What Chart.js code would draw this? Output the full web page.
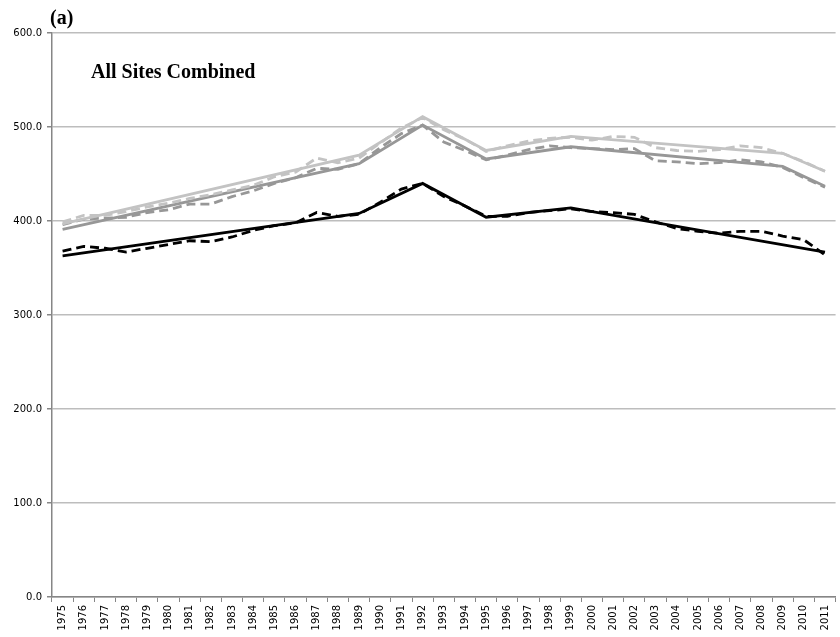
<!DOCTYPE html>
<html>
<head>
<meta charset="utf-8">
<script src="https://cdn.jsdelivr.net/npm/chart.js@4"></script>
<style>
    html, body { margin: 0; padding: 0; background: #fff; }
    #wrap { width: 840px; height: 637px; position: relative; }
</style>
</head>
<body>
<div id="wrap"><canvas id="chart" width="840" height="637"></canvas></div>
<script>
// years on the x axis
const years = [];
for (let y = 1975; y <= 2011; y++) years.push(String(y));

const yTicks = [0, 100, 200, 300, 400, 500, 600];

// observed series (dashed)
const lightObserved = [399, 406, 406, 410, 415, 419, 424, 428, 433, 438, 447, 452, 467, 462, 467, 483, 499, 510,
    497, 487, 474, 480, 485, 488, 489, 486, 490, 489, 478, 475, 474, 476, 480, 478, 472, 463, 453];
const mediumObserved = [396, 402, 403, 404, 409, 412, 418, 418, 426, 432, 440, 446, 456, 455, 461, 478, 493, 502,
    484, 475, 465, 470, 476, 480, 478, 477, 476, 477, 464, 463, 461, 462, 465, 463, 457, 446, 436];
const blackObserved = [368, 373, 371, 367, 371, 375, 379, 378, 383, 390, 395, 398, 409, 405, 407, 420, 434, 440,
    426, 416, 405, 405, 409, 411, 413, 410, 409, 407, 399, 392, 389, 387, 389, 389, 384, 380, 364];

// fitted trend lines (solid) - values only at the break years, joined by the chart
const lightTrend = { 1975: 397, 1989: 470, 1992: 511, 1995: 475, 1999: 490, 2009: 472, 2011: 453 };
const mediumTrend = { 1975: 391, 1989: 461, 1992: 502, 1995: 466, 1999: 479, 2009: 458, 2011: 437 };
const blackTrend = { 1975: 363, 1989: 408, 1992: 440, 1995: 404, 1999: 414, 2011: 367 };

function knots(obj) {
    return years.map(y => (obj[y] !== undefined ? obj[y] : null));
}

const LIGHT = '#c3c3c3';
const MEDIUM = '#979797';
const BLACK = '#000000';

function series(data, color, dashed) {
    return {
        data: data,
        borderColor: color,
        backgroundColor: color,
        borderWidth: 2.8,
        borderDash: dashed ? [9, 5] : [],
        pointRadius: 0,
        tension: 0,
        spanGaps: true
    };
}

// headings drawn on the canvas
const labelsPlugin = {
    id: 'labels',
    afterDraw(chart) {
        const ctx = chart.ctx;
        ctx.save();
        ctx.fillStyle = '#000';
        ctx.textBaseline = 'alphabetic';
        ctx.textAlign = 'left';
        ctx.font = 'bold 20px "Liberation Serif", "Times New Roman", serif';
        ctx.fillText('(a)', 50, 24);
        ctx.fillText('All Sites Combined', 91, 78);
        ctx.restore();
    }
};

new Chart(document.getElementById('chart'), {
    type: 'line',
    data: {
        labels: years,
        datasets: [
            series(knots(lightTrend), LIGHT, false),
            series(lightObserved, LIGHT, true),
            series(knots(mediumTrend), MEDIUM, false),
            series(mediumObserved, MEDIUM, true),
            series(knots(blackTrend), BLACK, false),
            series(blackObserved, BLACK, true)
        ]
    },
    options: {
        responsive: false,
        animation: false,
        layout: { padding: { top: 33, right: 0, left: 0, bottom: 0 } },
        plugins: {
            legend: { display: false },
            tooltip: { enabled: false }
        },
        scales: {
            x: {
                offset: true,
                grid: {
                    offset: true,
                    drawOnChartArea: false,
                    drawTicks: true,
                    tickLength: 5,
                    color: '#868686'
                },
                border: { color: '#868686', width: 1.5 },
                ticks: {
                    autoSkip: false,
                    minRotation: 90,
                    maxRotation: 90,
                    padding: 3,
                    color: '#000',
                    font: { family: 'DejaVu Sans', size: 10 }
                },
                afterFit(scale) { scale.height = 40; }
            },
            y: {
                min: 0,
                max: 600,
                afterBuildTicks(scale) {
                    scale.ticks = yTicks.map(v => ({ value: v }));
                },
                grid: {
                    color: '#bdbdbd',
                    lineWidth: 1.5,
                    tickLength: 5,
                    tickColor: '#868686'
                },
                border: { color: '#868686', width: 1.5 },
                ticks: {
                    padding: 5,
                    color: '#000',
                    font: { family: 'DejaVu Sans', size: 10 },
                    callback: v => Number(v).toFixed(1)
                },
                afterFit(scale) { scale.width = 52; }
            }
        }
    },
    plugins: [labelsPlugin]
});
</script>
</body>
</html>
